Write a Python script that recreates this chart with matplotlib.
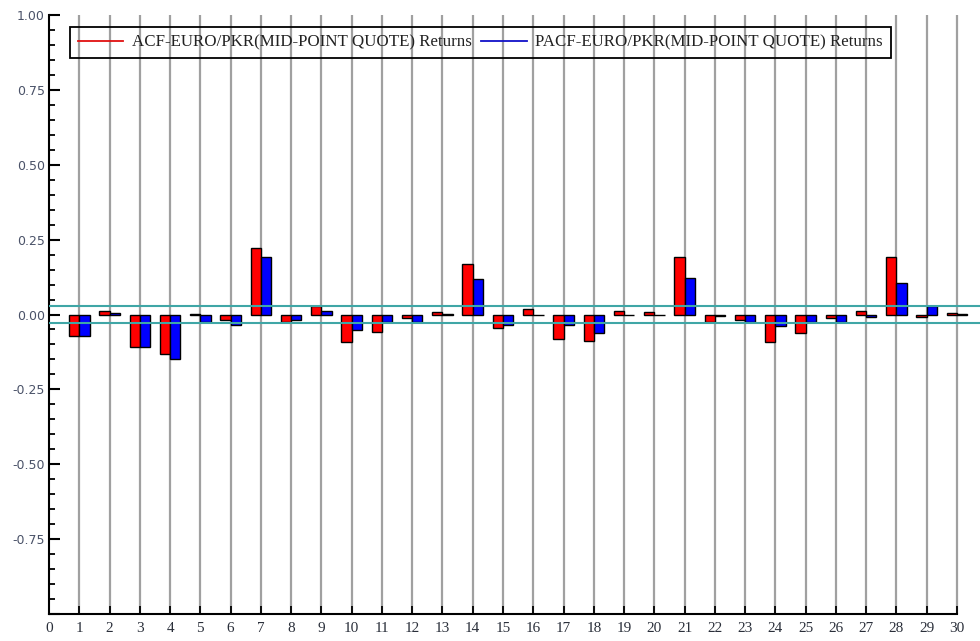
import numpy as np
import matplotlib
matplotlib.use("Agg")
import matplotlib.pyplot as plt
from matplotlib.lines import Line2D
from matplotlib.ticker import MultipleLocator, FixedLocator

lags = list(range(1, 31))
acf = [-0.072, 0.013, -0.109, -0.131, 0.003, -0.017, 0.221, -0.026, 0.028, -0.092,
       -0.057, -0.012, 0.008, 0.169, -0.046, 0.019, -0.081, -0.087, 0.012, 0.007,
       0.191, -0.026, -0.017, -0.092, -0.063, -0.012, 0.011, 0.191, -0.007, 0.006]
pacf = [-0.072, 0.005, -0.109, -0.150, -0.025, -0.034, 0.193, -0.018, 0.013, -0.051,
        -0.026, -0.026, 0.002, 0.119, -0.034, -0.002, -0.034, -0.062, -0.002, -0.001,
        0.122, -0.006, -0.026, -0.039, -0.026, -0.026, -0.007, 0.104, 0.027, 0.001]
conf_band = 0.028
acf_label = "ACF-EURO/PKR(MID-POINT QUOTE) Returns"
pacf_label = "PACF-EURO/PKR(MID-POINT QUOTE) Returns"
ytick_vals = [-0.75, -0.5, -0.25, 0.0, 0.25, 0.5, 0.75, 1.0]

fig = plt.figure(figsize=(9.8, 6.41), dpi=100)
ax = fig.add_axes([49 / 980, 27 / 641, 931 / 980, 599 / 641])

x = np.array(lags, dtype=float)
w = 0.34
ax.bar(x - w / 2, acf, width=w, color="#ff0000", edgecolor="black", linewidth=1.0, zorder=3)
ax.bar(x + w / 2, pacf, width=w, color="#0000ff", edgecolor="black", linewidth=1.0, zorder=3)

# vertical lag grid
for lag in lags:
    ax.axvline(lag, color="#a0a0a0", linewidth=1.6, zorder=1)

# confidence band
ax.axhline(conf_band, color="#3fa6a6", linewidth=1.5, zorder=4)
ax.axhline(-conf_band, color="#3fa6a6", linewidth=1.5, zorder=4)

ax.set_xlim(0, 30.76)
ax.set_ylim(-1.0, 1.0)

for s in ("top", "right"):
    ax.spines[s].set_visible(False)
for s in ("left", "bottom"):
    ax.spines[s].set_linewidth(1.5)
    ax.spines[s].set_color("black")
ax.spines["bottom"].set_bounds(0, 30)

ax.xaxis.set_major_locator(FixedLocator(list(range(0, 31))))
ax.set_xticklabels([str(i) for i in range(0, 31)])
ax.yaxis.set_major_locator(FixedLocator([-1.0] + ytick_vals))
ax.set_yticklabels([""] + ["%.2f" % v for v in ytick_vals])
ax.yaxis.set_minor_locator(MultipleLocator(0.05))

ax.tick_params(axis="x", direction="in", length=6, width=1.3, color="black",
               labelsize=11, pad=6, labelcolor="#2a2f3a")
for lab in ax.get_xticklabels():
    lab.set_family("Liberation Serif")
ax.tick_params(axis="y", which="major", direction="in", length=8, width=1.5,
               color="black", labelsize=9, pad=3, labelcolor="#4a5268")
ax.tick_params(axis="y", which="minor", direction="in", length=4, width=1.3, color="black")

handles = [Line2D([], [], color="#e01010", linewidth=1.3),
           Line2D([], [], color="#1010c8", linewidth=1.3)]
leg = ax.legend(handles, [acf_label, pacf_label], ncol=2, loc="upper left",
                bbox_to_anchor=(21 / 931, 1 - 12 / 599), borderaxespad=0,
                prop={"family": "Liberation Serif", "size": 12.2},
                frameon=True, fancybox=False, handlelength=2.7,
                handletextpad=0.5, columnspacing=0.55, borderpad=0.45)
frame = leg.get_frame()
frame.set_facecolor("none")
frame.set_edgecolor("black")
frame.set_alpha(None)
frame.set_linewidth(1.3)
for t in leg.get_texts():
    t.set_color("#222222")

fig.savefig("out.png", dpi=100)
